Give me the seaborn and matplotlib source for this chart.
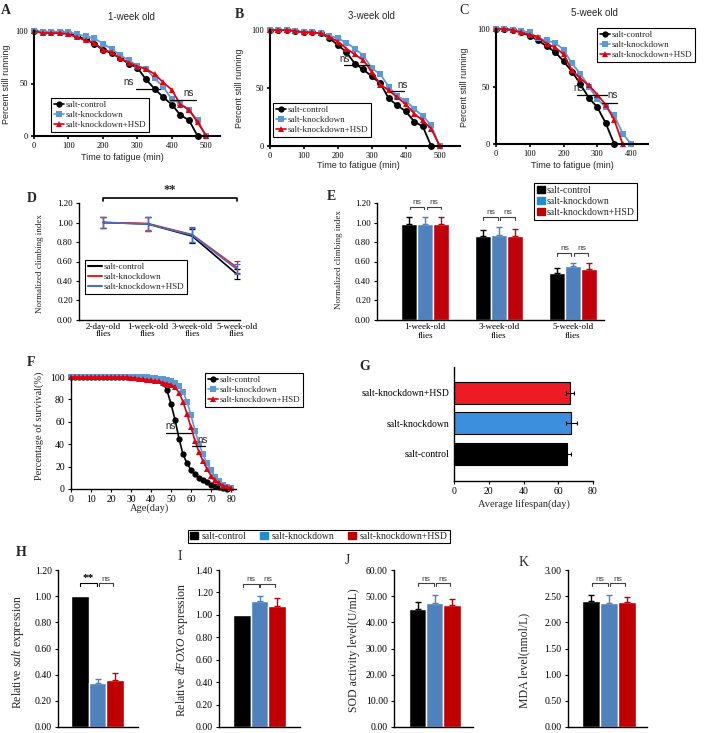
import matplotlib
matplotlib.use('Agg')
import matplotlib.pyplot as plt
from matplotlib.lines import Line2D
from matplotlib.patches import Patch
import pandas as pd
import seaborn as sns

groups = ['salt-control', 'salt-knockdown', 'salt-knockdown+HSD']

# A-C: percent still running, one point every 25 min
run_1wk_ctrl = [100, 99, 99, 99, 98, 95, 92, 88, 82, 79, 74, 69, 65, 54, 45, 37, 30, 20, 15, 0]
run_1wk_kd = [100, 99, 99, 99, 99, 97, 95, 93, 88, 83, 77, 72, 67, 64, 55, 47, 35, 31, 25, 15, 0]
run_1wk_hsd = [100, 98, 98, 98, 97, 94, 91, 89, 82, 80, 74, 70, 66, 64, 59, 51, 44, 30, 25, 13, 0]
run_3wk_ctrl = [100, 100, 100, 99, 98, 98, 97, 93, 87, 81, 71, 66, 60, 54, 41, 35, 30, 21, 17, 0]
run_3wk_kd = [100, 100, 100, 99, 98, 98, 97, 95, 93, 89, 84, 78, 67, 62, 51, 43, 39, 32, 26, 18, 0]
run_3wk_hsd = [100, 100, 100, 99, 98, 98, 97, 94, 90, 84, 79, 74, 64, 53, 48, 42, 36, 28, 22, 15, 0]
run_5wk_ctrl = [100, 100, 99, 97, 94, 90, 85, 80, 72, 63, 52, 40, 32, 18, 0]
run_5wk_kd = [100, 100, 99, 98, 97, 92, 90, 88, 82, 70, 61, 50, 39, 32, 25, 9, 0]
run_5wk_hsd = [100, 100, 99, 97, 95, 93, 87, 84, 78, 64, 57, 51, 43, 34, 21, 0]

# D: climbing index (line)
ages_D = ['2-day-old\nflies', '1-week-old\nflies', '3-week-old\nflies', '5-week-old\nflies']
climbD_ctrl = [1.00, 0.985, 0.86, 0.47]
climbD_kd = [1.00, 0.99, 0.875, 0.54]
climbD_hsd = [1.00, 0.985, 0.87, 0.52]
climbD_ctrl_err = [0.06, 0.07, 0.07, 0.05]
climbD_kd_err = [0.06, 0.07, 0.08, 0.06]
climbD_hsd_err = [0.06, 0.07, 0.07, 0.05]

# E: climbing index (bars)
ages_E = ['1-week-old\nflies', '3-week-old\nflies', '5-week-old\nflies']
climbE_ctrl = [0.98, 0.86, 0.48]
climbE_kd = [0.985, 0.875, 0.55]
climbE_hsd = [0.98, 0.865, 0.525]
climbE_ctrl_err = [0.08, 0.06, 0.05]
climbE_kd_err = [0.07, 0.08, 0.03]
climbE_hsd_err = [0.08, 0.065, 0.06]

# F: survival (%), one point every 2 days
surv_ctrl = [100, 100, 100, 100, 100, 100, 100, 100, 100, 100, 100, 100, 100, 100, 100, 100, 100, 100, 100, 100,
             99.5, 99, 98, 95, 88, 76, 62, 45, 31, 23, 17, 13, 10, 8, 6, 4, 2.5, 1.5, 0.5, 0]
surv_kd = [100, 100, 100, 100, 100, 100, 100, 100, 100, 100, 100, 100, 100, 100, 100, 100, 100, 100, 100, 100,
           99.5, 99, 98.5, 98, 97, 96, 95, 92, 87, 78, 66, 52, 40, 31, 23, 17, 11, 7, 4, 2, 0.5]
surv_hsd = [100, 100, 100, 100, 100, 100, 100, 100, 100, 100, 100, 100, 100, 100, 100, 99.5, 99, 98.5, 98, 97.5,
            97, 96.5, 96, 95, 94, 93, 91, 86, 78, 67, 55, 43, 33, 25, 18, 12, 8, 5, 3, 2, 1]

# G: average lifespan (day)
lifespan = [64.8, 67.6, 66.7]
lifespan_err = [2.3, 3.0, 2.5]

# H-K
salt_expr = [1.00, 0.34, 0.36]
salt_expr_err = [0.0, 0.03, 0.05]
foxo_expr = [1.00, 1.12, 1.08]
foxo_expr_err = [0.0, 0.05, 0.07]
sod_level = [45.2, 47.5, 46.5]
sod_level_err = [2.5, 2.8, 2.5]
mda_level = [2.41, 2.37, 2.39]
mda_level_err = [0.11, 0.15, 0.10]

SERIF = 'Liberation Serif'
SANS = 'Liberation Sans'

sns.set_style('ticks')
plt.rcParams['font.family'] = [SERIF, 'DejaVu Serif']
plt.rcParams['mathtext.fontset'] = 'custom'
plt.rcParams['mathtext.rm'] = SERIF
plt.rcParams['mathtext.it'] = SERIF + ':italic'

W, H = 705, 733
fig = plt.figure(figsize=(W / 100, H / 100), dpi=100)
fig.patch.set_facecolor('white')


def fx(x):
    return x / W


def fy(y):
    return 1 - y / H


def axes_px(l, t, r, b):
    return fig.add_axes([l / W, 1 - b / H, (r - l) / W, (b - t) / H])


def letter(x, y, s, bold=True):
    fig.text(fx(x), fy(y), s, ha='center', va='center', fontsize=10,
             fontweight='bold' if bold else 'normal', family=SERIF)


def style_ax(ax, lw=1.0, size=6.5, family=SERIF):
    sns.despine(ax=ax)
    for sp in ['left', 'bottom']:
        ax.spines[sp].set_linewidth(lw)
        ax.spines[sp].set_color('black')
    ax.tick_params(length=2.5, width=lw * 0.8, pad=2, labelsize=size, colors='black')
    for lab in ax.get_xticklabels() + ax.get_yticklabels():
        lab.set_family(family)
    ax.set_facecolor('white')


def ylab(ax, s, x, y, size, family=SERIF):
    ax.set_ylabel(s, fontsize=size, family=family, va='center')
    ax.yaxis.set_label_coords(fx(x), fy(y), transform=fig.transFigure)


def xlab(ax, s, x, y, size, family=SERIF):
    ax.set_xlabel(s, fontsize=size, family=family, va='center')
    ax.xaxis.set_label_coords(fx(x), fy(y), transform=fig.transFigure)


def box_legend(ax, handles, labels, xy, size=7, hl=1.0, **kw):
    lg = ax.legend(handles, labels, loc='upper left', bbox_to_anchor=(fx(xy[0]), fy(xy[1])),
                   bbox_transform=fig.transFigure, fontsize=size, frameon=True, fancybox=False,
                   edgecolor='black', borderaxespad=0, borderpad=0.3, labelspacing=0.2,
                   handlelength=hl, handletextpad=0.2, framealpha=1, **kw)
    lg.get_frame().set_linewidth(0.8)
    return lg


run_palette = {'salt-control': '#000000', 'salt-knockdown': '#5B9BD5', 'salt-knockdown+HSD': '#E3000F'}
run_markers = {'salt-control': 'o', 'salt-knockdown': 's', 'salt-knockdown+HSD': '^'}


def run_handles(ms):
    return [Line2D([], [], color=run_palette[g], marker=run_markers[g], lw=1.2, ms=ms, mew=0) for g in groups]


def running_panel(box, series, xlim, xticks, title, title_xy, ns_marks, leg_xy, ylab_xy, xlab_xy):
    ax = axes_px(*box)
    rows = []
    for g, vals in zip(groups, series):
        for i, v in enumerate(vals):
            rows.append((i * 25, v, g))
    df = pd.DataFrame(rows, columns=['t', 'pct', 'group'])
    sns.lineplot(data=df, x='t', y='pct', hue='group', style='group', palette=run_palette,
                 markers=run_markers, dashes=False, errorbar=None, legend=False, ax=ax,
                 lw=1.3, markersize=5, mew=0, clip_on=False)
    ax.set_xlim(*xlim)
    ax.set_ylim(0, 100)
    ax.set_xticks(xticks)
    ax.set_yticks([0, 50, 100])
    style_ax(ax, lw=1.5, size=6)
    ylab(ax, 'Percent still running', ylab_xy[0], ylab_xy[1], 6.5, SANS)
    xlab(ax, 'Time to fatigue (min)', xlab_xy[0], xlab_xy[1], 6.5, SANS)
    fig.text(fx(title_xy[0]), fy(title_xy[1]), title, ha='center', va='center', fontsize=7, family=SANS)
    for (tx, ty, x0, x1, ly) in ns_marks:
        ax.text(tx, ty, 'ns', ha='center', va='bottom', fontsize=7, family=SANS)
        ax.plot([x0, x1], [ly, ly], color='black', lw=0.9)
    box_legend(ax, run_handles(4.5), groups, leg_xy, size=6.5, hl=1.1)
    return ax


# ---- A, B, C ----
running_panel((34, 31, 220, 136), [run_1wk_ctrl, run_1wk_kd, run_1wk_hsd], (0, 540), range(0, 501, 100),
              '1-week old', (131, 17), [(275, 47, 295, 365, 45), (450, 36, 395, 470, 34)],
              (51, 98), (7, 84), (122, 158))
running_panel((270, 30, 460, 146), [run_3wk_ctrl, run_3wk_kd, run_3wk_hsd], (0, 560), range(0, 501, 100),
              '3-week old', (371, 16), [(220, 71, 218, 292, 70), (390, 48, 358, 395, 47)],
              (273, 103), (239, 88), (358, 166))
running_panel((496, 29, 648, 144), [run_5wk_ctrl, run_5wk_kd, run_5wk_hsd], (0, 450), range(0, 401, 100),
              '5-week old', (594, 13), [(245, 44, 240, 329, 43), (344, 38, 314, 357, 36)],
              (597, 28), (465, 87), (572, 165))
letter(6, 11, 'A')
letter(239, 15, 'B')
letter(464, 11, 'C', bold=False)

# ---- D ----
climb_palette = {'salt-control': '#000000', 'salt-knockdown': '#E0242B', 'salt-knockdown+HSD': '#4472C4'}
axD = axes_px(79, 203, 240, 320)
rows = []
for g, vals in zip(groups, [climbD_ctrl, climbD_kd, climbD_hsd]):
    for i, v in enumerate(vals):
        rows.append((i, v, g))
dfD = pd.DataFrame(rows, columns=['age', 'val', 'group'])
sns.lineplot(data=dfD, x='age', y='val', hue='group', palette=climb_palette, errorbar=None,
             legend=False, ax=axD, lw=1.2)
for g, vals, errs in zip(groups, [climbD_ctrl, climbD_kd, climbD_hsd],
                         [climbD_ctrl_err, climbD_kd_err, climbD_hsd_err]):
    axD.errorbar(range(len(vals)), vals, yerr=errs, fmt='none', ecolor=climb_palette[g],
                 elinewidth=0.9, capsize=2, capthick=0.9)
axD.set_xlim(-0.54, 3.07)
axD.set_ylim(0, 1.2)
axD.set_yticks([0, 0.2, 0.4, 0.6, 0.8, 1.0, 1.2])
axD.set_yticklabels(['%.2f' % v for v in axD.get_yticks()])
axD.set_xticks(range(4))
axD.set_xticklabels(ages_D, linespacing=0.95)
axD.set_xlabel('')
style_ax(axD, size=6.5)
axD.tick_params(axis='x', length=0)
ylab(axD, 'Normalized climbing index', 40, 264, 6.5)
axD.plot([0, 0, 3, 3], [1.22, 1.25, 1.25, 1.22], color='black', lw=1.2, clip_on=False)
axD.text(1.5, 1.27, '**', ha='center', va='bottom', fontsize=9, fontweight='bold')
box_legend(axD, [Line2D([], [], color=climb_palette[g], lw=1.5) for g in groups], groups, (85, 260),
           size=6.5, hl=1.6)
letter(32, 199, 'D')

# ---- E ----
bar_palette = {'salt-control': '#000000', 'salt-knockdown': '#4F81BD', 'salt-knockdown+HSD': '#C0000B'}
legend_palette = ['#000000', '#1F8FD0', '#C00000']
axE = axes_px(377, 203, 604, 320)
rows = []
for g, vals in zip(groups, [climbE_ctrl, climbE_kd, climbE_hsd]):
    for a, v in zip(ages_E, vals):
        rows.append((a, v, g))
dfE = pd.DataFrame(rows, columns=['age', 'val', 'group'])
sns.barplot(data=dfE, x='age', y='val', hue='group', palette=bar_palette, width=0.66, saturation=1,
            errorbar=None, legend=False, ax=axE)
errsE = [climbE_ctrl_err, climbE_kd_err, climbE_hsd_err]
centersE = []
for g, cont, errs in zip(groups, axE.containers, errsE):
    cs = []
    for bar, e in zip(cont, errs):
        x = bar.get_x() + bar.get_width() / 2
        cs.append(x)
        axE.errorbar([x], [bar.get_height()], yerr=[[0], [e]], fmt='none', ecolor=bar_palette[g],
                     elinewidth=1.0, capsize=2, capthick=1.0)
    centersE.append(cs)
valsE = [climbE_ctrl, climbE_kd, climbE_hsd]


def bracket(ax, x0, x1, top, leg, txt, size=6, family=SANS, color='#404040', weight='normal'):
    ax.plot([x0, x0, x1, x1], [top - leg, top, top, top - leg], color=color, lw=0.8, clip_on=False)
    ax.text((x0 + x1) / 2, top + leg * 0.3, txt, ha='center', va='bottom', fontsize=size,
            family=family, color=color, fontweight=weight)


for i in range(len(ages_E)):
    top = max(valsE[k][i] + errsE[k][i] for k in range(3)) + 0.1
    c = [centersE[k][i] for k in range(3)]
    bracket(axE, c[0] + 0.01, c[1] - 0.02, top, 0.025, 'ns')
    bracket(axE, c[1] + 0.02, c[2] - 0.01, top, 0.025, 'ns')
axE.set_xlim(-0.65, 2.42)
axE.set_ylim(0, 1.2)
axE.set_yticks([0, 0.2, 0.4, 0.6, 0.8, 1.0, 1.2])
axE.set_yticklabels(['%.2f' % v for v in axE.get_yticks()])
axE.set_xlabel('')
style_ax(axE, size=6.5)
axE.tick_params(axis='x', length=0)
ylab(axE, 'Normalized climbing index', 339, 260, 6.5)
box_legend(axE, [Patch(color=c) for c in legend_palette], groups, (534, 183), size=7, hl=0.8,
           handleheight=0.8)
letter(331, 196, 'E')

# ---- F ----
axF = axes_px(71, 377, 236, 489)
rows = []
for g, vals in zip(groups, [surv_ctrl, surv_kd, surv_hsd]):
    for i, v in enumerate(vals):
        rows.append((i * 2, v, g))
dfF = pd.DataFrame(rows, columns=['day', 'pct', 'group'])
sns.lineplot(data=dfF, x='day', y='pct', hue='group', style='group', palette=run_palette,
             markers=run_markers, dashes=False, errorbar=None, legend=False, ax=axF,
             lw=1.2, markersize=4.5, mew=0, clip_on=False)
axF.set_xlim(0, 82.5)
axF.set_ylim(0, 100)
axF.set_xticks(range(0, 81, 10))
axF.set_yticks(range(0, 101, 20))
style_ax(axF, size=7)
ylab(axF, 'Percentage of survival(%)', 39, 426, 7.5)
xlab(axF, 'Age(day)', 150, 508, 7.5)
axF.text(50, 52, 'ns', ha='center', va='bottom', fontsize=7, family=SANS)
axF.plot([47.5, 60], [50, 50], color='black', lw=0.9)
axF.text(66, 39, 'ns', ha='center', va='bottom', fontsize=7, family=SANS)
axF.plot([60.5, 67], [38, 38], color='black', lw=0.9)
box_legend(axF, run_handles(4.5), groups, (205, 373), size=6.5, hl=1.1)
letter(31, 363, 'F')

# ---- G ----
life_palette = {'salt-control': '#000000', 'salt-knockdown': '#3C8FDD', 'salt-knockdown+HSD': '#ED1C24'}
axG = axes_px(454, 367, 593, 481)
dfG = pd.DataFrame({'group': groups[::-1], 'days': lifespan[::-1], 'err': lifespan_err[::-1]})
sns.barplot(data=dfG, x='days', y='group', hue='group', palette=life_palette, orient='h', width=0.72,
            saturation=1, errorbar=None, legend=False, edgecolor='black', linewidth=0.8, ax=axG)
axG.errorbar(dfG['days'], range(3), xerr=dfG['err'], fmt='none', ecolor='black', elinewidth=0.8,
             capsize=1.5, capthick=0.8)
axG.set_xlim(0, 80)
axG.set_ylim(2.9, -0.84)
axG.set_xticks(range(0, 81, 20))
axG.set_ylabel('')
style_ax(axG, size=7)
axG.tick_params(axis='y', length=0, pad=3)
xlab(axG, 'Average lifespan(day)', 524, 504, 7.5)
letter(365, 366, 'G')

# ---- H-K ----
hk_palette = {'salt-control': '#000000', 'salt-knockdown': '#4F81BD', 'salt-knockdown+HSD': '#C00000'}


def small_bars(box, vals, errs, xlim, ylim, yticks, ylabel, ylab_xy, marks, lab_size=8.5):
    ax = axes_px(*box)
    df = pd.DataFrame({'group': groups, 'val': vals})
    sns.barplot(data=df, x='group', y='val', hue='group', palette=hk_palette, width=1.0, saturation=1,
                errorbar=None, legend=False, ax=ax)
    for g, cont, e in zip(groups, ax.containers, errs):
        bar = cont[0]
        if e > 0:
            ax.errorbar([bar.get_x() + bar.get_width() / 2], [bar.get_height()], yerr=[[0], [e]],
                        fmt='none', ecolor=hk_palette[g], elinewidth=1.0, capsize=2, capthick=1.0)
    ax.set_xlim(*xlim)
    ax.set_ylim(*ylim)
    ax.set_yticks(yticks)
    ax.set_yticklabels(['%.2f' % v for v in yticks])
    ax.set_xticks([])
    ax.set_xlabel('')
    style_ax(ax, size=7)
    ylab(ax, ylabel, ylab_xy[0], ylab_xy[1], lab_size)
    top = ylim[1] * marks[0]
    leg = ylim[1] * 0.017
    for (a, b, txt) in marks[1]:
        if txt == '**':
            bracket(ax, a, b, top, leg, txt, size=8, family=SERIF, color='black', weight='bold')
        else:
            bracket(ax, a, b, top, leg, txt, size=6)
    return ax


small_bars((58, 570, 138, 727), salt_expr, salt_expr_err, (-1.26, 3.3), (0, 1.2),
           [0, 0.2, 0.4, 0.6, 0.8, 1.0, 1.2], 'Relative $\\mathit{salt}$ expression', (18, 652),
           (0.915, [(0.0, 0.95, '**'), (1.05, 1.9, 'ns')]))
small_bars((219, 570, 300, 727), foxo_expr, foxo_expr_err, (-1.31, 3.31), (0, 1.4),
           [0, 0.2, 0.4, 0.6, 0.8, 1.0, 1.2, 1.4], 'Relative $\\mathit{dFOXO}$ expression', (182, 650),
           (0.91, [(0.05, 0.95, 'ns'), (1.05, 1.9, 'ns')]))
small_bars((394, 570, 473, 727), sod_level, sod_level_err, (-1.36, 3.21), (0, 60),
           [0, 10, 20, 30, 40, 50, 60], 'SOD activity level(U/mL)', (354, 650),
           (0.915, [(0.05, 0.95, 'ns'), (1.05, 1.9, 'ns')]))
small_bars((568, 570, 647, 727), mda_level, mda_level_err, (-1.28, 3.1), (0, 3.0),
           [0, 0.5, 1.0, 1.5, 2.0, 2.5, 3.0], 'MDA level(nmol/L)', (524, 660),
           (0.915, [(0.05, 0.95, 'ns'), (1.05, 1.9, 'ns')]))
letter(21, 552, 'H')
letter(180, 556, 'I', bold=False)
letter(347, 560, 'J', bold=False)
letter(524, 563, 'K', bold=False)

leg = fig.legend([Patch(color=c) for c in legend_palette], groups, loc='center',
                 bbox_to_anchor=(fx(319), fy(536.5)), ncol=3, fontsize=7, fancybox=False,
                 edgecolor='black', borderpad=0.2, handlelength=0.8, handleheight=0.8,
                 handletextpad=0.4, columnspacing=1.4, framealpha=1)
leg.get_frame().set_linewidth(0.8)

fig.savefig('out.png', dpi=100, facecolor='white')
